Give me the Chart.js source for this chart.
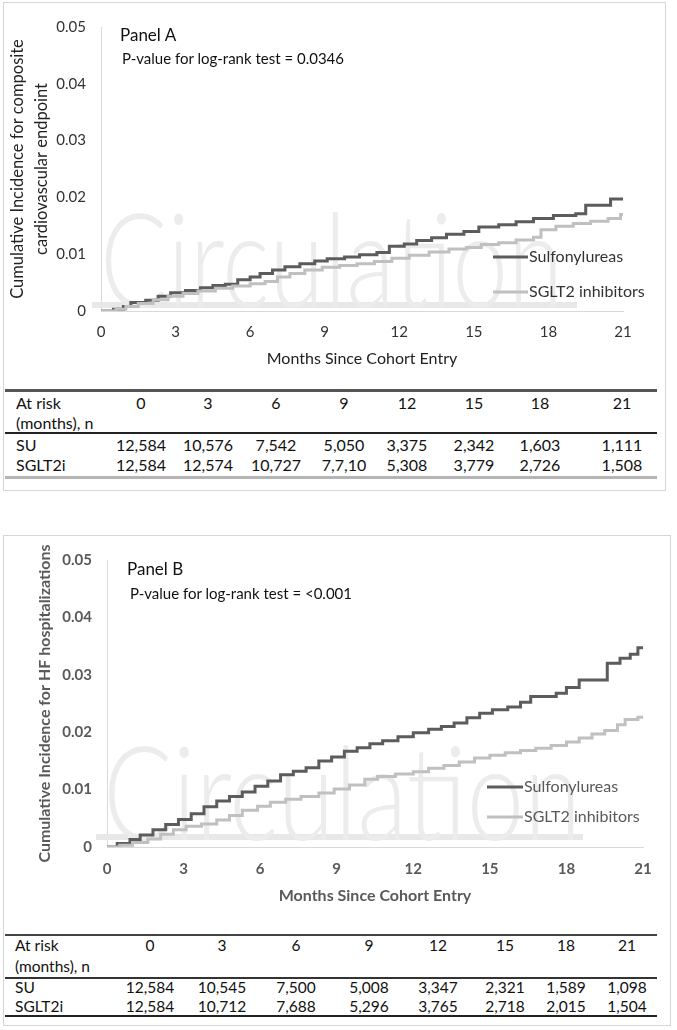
<!DOCTYPE html>
<html>
<head>
<meta charset="utf-8">
<script src="https://cdn.jsdelivr.net/npm/chart.js@4.4.0/dist/chart.umd.min.js"></script>
<style>
  body{margin:0;background:#fff;width:677px;height:1030px;position:relative;overflow:hidden;font-family:Lato,'Open Sans',sans-serif;color:#111;}
  .frame{position:absolute;border:1px solid #d6d6d6;box-sizing:border-box;}
  canvas{position:absolute;left:0;}
  .t{position:absolute;white-space:nowrap;line-height:1.2;transform:translateY(-50%);}
  .c{transform:translate(-50%,-50%);}
  .rule{position:absolute;left:5px;width:652px;}
</style>
</head>
<body>
<div class="frame" style="left:3px;top:2px;width:663px;height:489px;"></div>
<div class="frame" style="left:3px;top:535px;width:668px;height:491px;"></div>
<canvas id="panelA" width="677" height="380" style="top:0"></canvas>
<canvas id="panelB" width="677" height="380" style="top:530px"></canvas>
<script>
/* ---------- data ---------- */
const seriesNames = ['Sulfonylureas', 'SGLT2 inhibitors'];
const yTickLabels = ['0', '0.01', '0.02', '0.03', '0.04', '0.05'];
const tableMonths = ['0', '3', '6', '9', '12', '15', '18', '21'];

// Panel A: composite cardiovascular endpoint
const aSuMonths = [0, 0.5, 0.9, 1.2, 1.8, 2.3, 2.8, 3.4, 4.0, 4.5, 5.0, 5.5, 6.0, 6.4, 6.9, 7.4, 8.0, 8.6, 9.1, 9.8, 10.4, 11.1, 11.6, 12.2, 12.7, 13.3, 13.9, 14.6, 15.2, 16.0, 16.7, 17.4, 18.2, 19.1, 19.5, 20.5, 21];
const aSuRisk   = [0, 0.0003, 0.0008, 0.0015, 0.0019, 0.0026, 0.0032, 0.0036, 0.0041, 0.0045, 0.0047, 0.0055, 0.0060, 0.0066, 0.0072, 0.0078, 0.0083, 0.0088, 0.0092, 0.0095, 0.0099, 0.0103, 0.0114, 0.0118, 0.0124, 0.0129, 0.0135, 0.0140, 0.0148, 0.0152, 0.0157, 0.0163, 0.0168, 0.0171, 0.0186, 0.0197, 0.0197];
const aSgMonths = [0, 0.6, 1.0, 1.5, 2.1, 2.7, 3.3, 3.9, 4.6, 5.3, 6.0, 6.6, 7.1, 7.6, 8.2, 8.9, 9.6, 10.3, 11.0, 11.7, 12.4, 13.2, 14.0, 14.7, 15.3, 16.0, 16.7, 17.4, 17.7, 18.3, 19.0, 19.7, 20.4, 20.9, 21];
const aSgRisk   = [0, 0.0003, 0.0008, 0.0013, 0.0020, 0.0026, 0.0031, 0.0035, 0.0040, 0.0044, 0.0048, 0.0052, 0.0060, 0.0066, 0.0072, 0.0077, 0.0080, 0.0083, 0.0087, 0.0093, 0.0098, 0.0104, 0.0109, 0.0112, 0.0117, 0.0120, 0.0125, 0.0130, 0.0143, 0.0149, 0.0154, 0.0158, 0.0163, 0.0170, 0.0170];

// Panel B: HF hospitalizations
const bSuMonths = [0, 0.4, 0.9, 1.3, 1.8, 2.3, 2.8, 3.3, 3.8, 4.3, 4.8, 5.3, 5.8, 6.3, 6.8, 7.3, 7.8, 8.3, 8.8, 9.3, 9.8, 10.3, 10.8, 11.4, 12.0, 12.6, 13.1, 13.6, 14.1, 14.6, 15.1, 15.7, 16.2, 16.6, 17.6, 18.0, 18.5, 19.6, 20.1, 20.5, 20.8, 21];
const bSuRisk   = [0, 0.0006, 0.0013, 0.0021, 0.0030, 0.0039, 0.0048, 0.0058, 0.0070, 0.0080, 0.0088, 0.0096, 0.0106, 0.0115, 0.0126, 0.0132, 0.0138, 0.0150, 0.0157, 0.0167, 0.0173, 0.0180, 0.0185, 0.0192, 0.0199, 0.0205, 0.0210, 0.0216, 0.0225, 0.0233, 0.0239, 0.0244, 0.0252, 0.0262, 0.0268, 0.0278, 0.0291, 0.0320, 0.0329, 0.0336, 0.0347, 0.0347];
const bSgMonths = [0, 0.5, 1.0, 1.6, 2.1, 2.6, 3.1, 3.7, 4.3, 4.8, 5.3, 5.9, 6.4, 7.0, 7.6, 8.3, 8.9, 9.5, 10.1, 10.6, 11.3, 12.0, 12.6, 13.2, 13.8, 14.4, 15.0, 15.6, 16.2, 16.8, 17.4, 18.0, 18.5, 19.0, 19.5, 20.0, 20.3, 20.8, 21];
const bSgRisk   = [0, 0.0003, 0.0008, 0.0014, 0.0022, 0.0030, 0.0036, 0.0040, 0.0047, 0.0055, 0.0064, 0.0071, 0.0078, 0.0083, 0.0088, 0.0094, 0.0101, 0.0108, 0.0118, 0.0123, 0.0127, 0.0131, 0.0137, 0.0142, 0.0148, 0.0155, 0.0160, 0.0164, 0.0168, 0.0172, 0.0177, 0.0183, 0.0190, 0.0197, 0.0203, 0.0213, 0.0222, 0.0226, 0.0226];

// numbers at risk
const aSuAtRisk = ['12,584', '10,576', '7,542', '5,050', '3,375', '2,342', '1,603', '1,111'];
const aSgAtRisk = ['12,584', '12,574', '10,727', '7,7,10', '5,308', '3,779', '2,726', '1,508'];
const bSuAtRisk = ['12,584', '10,545', '7,500', '5,008', '3,347', '2,321', '1,589', '1,098'];
const bSgAtRisk = ['12,584', '10,712', '7,688', '5,296', '3,765', '2,718', '2,015', '1,504'];

/* ---------- style ---------- */
const SU_COL = '#5c5c5c', SG_COL = '#c0c0c0';
const FONT = "Lato, 'Open Sans', sans-serif";

const pts = (xs, ys) => xs.map((x, i) => ({ x, y: ys[i] }));

// faint "Circulation" journal watermark, drawn under the curves
const watermark = {
  id: 'wm',
  beforeDatasetsDraw(chart, args, o) {
    const ctx = chart.ctx;
    ctx.save();
    ctx.fillStyle = '#e8e8e8';
    ctx.fillRect(o.barX0, o.barY, o.barX1 - o.barX0, 6);
    ctx.font = '300 130px ' + FONT;
    const w = ctx.measureText('Circulation').width;
    ctx.translate(o.x, o.y);
    ctx.scale(o.w / w, 1);
    ctx.fillStyle = '#ececec';
    ctx.textBaseline = 'alphabetic';
    ctx.fillText('Circulation', 0, 0);
    ctx.restore();
  }
};

// legend sitting inside the plot, line then label
const sideLegend = {
  id: 'sideLegend',
  afterDatasetsDraw(chart, args, o) {
    const ctx = chart.ctx;
    ctx.save();
    chart.data.datasets.forEach((ds, i) => {
      const y = o.y[i];
      ctx.strokeStyle = ds.borderColor;
      ctx.lineWidth = 3;
      ctx.beginPath();
      ctx.moveTo(o.x0, y); ctx.lineTo(o.x1, y);
      ctx.stroke();
      ctx.fillStyle = o.color;
      ctx.font = '16px ' + FONT;
      ctx.textBaseline = 'middle';
      ctx.fillText(ds.label, o.x1 + 1, y);
    });
    ctx.restore();
  }
};

function buildPanel(id, p) {
  const w = p.bold ? 'bold' : 'normal';
  return new Chart(document.getElementById(id), {
    type: 'line',
    data: {
      datasets: [
        { label: seriesNames[1], data: p.sg, borderColor: SG_COL, borderWidth: 3, stepped: true, pointRadius: 0, fill: false },
        { label: seriesNames[0], data: p.su, borderColor: SU_COL, borderWidth: 3, stepped: true, pointRadius: 0, fill: false }
      ]
    },
    options: {
      responsive: false, animation: false, devicePixelRatio: 1,
      layout: { padding: { top: p.top, right: p.right, left: 0, bottom: 0 } },
      plugins: {
        legend: { display: false }, tooltip: { enabled: false },
        wm: p.wm,
        sideLegend: p.legend
      },
      scales: {
        x: {
          type: 'linear', min: 0, max: 21,
          afterFit: s => { s.height = p.xH; },
          border: { color: '#d9d9d9', width: 1 },
          grid: { display: false, drawTicks: false },
          ticks: { stepSize: 3, padding: p.xPad, maxRotation: 0, color: p.tickColor, font: { family: FONT, size: 15, weight: w } },
          title: { display: true, text: 'Months Since Cohort Entry', color: p.titleColor, font: { family: FONT, size: 16, weight: w }, padding: { top: 0, bottom: p.xTitlePad } }
        },
        y: {
          min: 0, max: 0.05,
          afterFit: s => { s.width = p.yW; },
          border: { color: '#d9d9d9', width: 1 },
          grid: { display: false, drawTicks: false },
          ticks: { stepSize: 0.01, padding: 15, color: p.tickColor, font: { family: FONT, size: 15, weight: w }, callback: (v, i) => yTickLabels[i] },
          title: { display: true, text: p.yTitle, color: p.titleColor, font: { family: FONT, size: p.yTitleSize, weight: w, lineHeight: 1.45 }, padding: { top: p.yTitlePad, bottom: 0 } }
        }
      }
    },
    plugins: [watermark, sideLegend]
  });
}

buildPanel('panelA', {
  su: pts(aSuMonths, aSuRisk), sg: pts(aSgMonths, aSgRisk),
  top: 27, right: 54, yW: 101, xH: 69, xPad: 12, xTitlePad: 12,
  yTitle: ['Cumulative Incidence for composite', 'cardiovascular endpoint'], yTitlePad: 6, yTitleSize: 16.5,
  tickColor: '#333', titleColor: '#222', bold: false,
  wm: { x: 100, y: 307, w: 463, barX0: 92, barX1: 577, barY: 302 },
  legend: { x0: 493, x1: 528, y: [292, 257], color: '#333' }
});

buildPanel('panelB', {
  su: pts(bSuMonths, bSuRisk), sg: pts(bSgMonths, bSgRisk),
  top: 30, right: 34, yW: 107, xH: 63, xPad: 13, xTitlePad: 5,
  yTitle: 'Cumulative Incidence for HF hospitalizations', yTitlePad: 33, yTitleSize: 16,
  tickColor: '#595959', titleColor: '#595959', bold: true,
  wm: { x: 103, y: 310, w: 478, barX0: 96, barX1: 583, barY: 304 },
  legend: { x0: 487, x1: 523, y: [287, 257], color: '#595959' }
});

/* ---------- text and at-risk tables ---------- */
function addText(txt, x, y, size, extra) {
  const d = document.createElement('div');
  d.className = 't' + (extra && extra.center ? ' c' : '');
  d.textContent = txt;
  d.style.left = x + 'px';
  d.style.top = y + 'px';
  d.style.fontSize = size + 'px';
  if (extra && extra.color) d.style.color = extra.color;
  document.body.appendChild(d);
}
function addRule(y, h, color) {
  const r = document.createElement('div');
  r.className = 'rule';
  r.style.top = y + 'px'; r.style.height = h + 'px'; r.style.background = color;
  document.body.appendChild(r);
}

addText('Panel A', 120, 35, 17);
addText('P-value for log-rank test = 0.0346', 122, 58, 15);
addText('Panel B', 127, 569, 17);
addText('P-value for log-rank test = <0.001', 130, 593, 15);

function buildTable(t) {
  addRule(t.lines[0], t.w[0], t.c[0]);
  addRule(t.lines[1], t.w[1], t.c[1]);
  addRule(t.lines[2], t.w[2], t.c[2]);
  addText('At risk', t.lx, t.rows[0], t.fs);
  addText('(months), n', t.lx, t.rows[1], t.fs);
  addText('SU', t.lx, t.rows[2], t.fs);
  addText('SGLT2i', t.lx, t.rows[3], t.fs);
  t.cols.forEach((x, i) => {
    addText(tableMonths[i], x, t.rows[0], t.fs, { center: true });
    addText(t.su[i], x, t.rows[2], t.fs, { center: true });
    addText(t.sg[i], x, t.rows[3], t.fs, { center: true });
  });
}

buildTable({
  lx: 16, fs: 16, rows: [403, 423, 445, 465],
  lines: [389, 432, 476], w: [3, 2, 3], c: ['#555', '#222', '#b5b5b5'],
  cols: [141, 208, 276, 344, 407, 474, 540, 622],
  su: aSuAtRisk, sg: aSgAtRisk
});
buildTable({
  lx: 15, fs: 15.5, rows: [945, 966, 987, 1006],
  lines: [934, 977, 1015], w: [2, 1.5, 2], c: ['#444', '#333', '#222'],
  cols: [150, 222, 296, 369, 438, 505, 566, 627],
  su: bSuAtRisk, sg: bSgAtRisk
});
</script>
</body>
</html>
